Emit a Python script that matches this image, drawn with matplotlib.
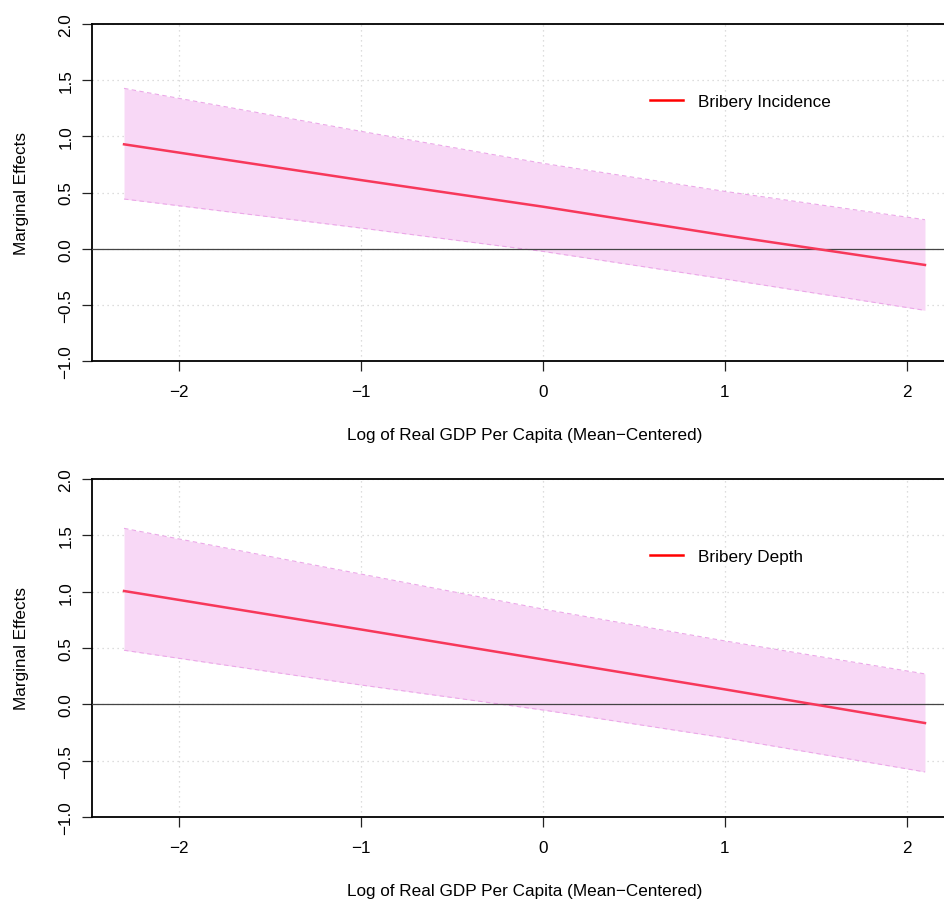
import matplotlib
matplotlib.use("Agg")
import matplotlib.pyplot as plt
import numpy as np

plt.rcParams["font.family"] = ["Liberation Sans", "DejaVu Sans"]

# evaluation points of log real GDP per capita (mean-centered)
gdp = [-2.3, -1.0, 0.0, 1.0, 2.1]

# panel 1: bribery incidence
inc_mean = [0.929, 0.611, 0.374, 0.119, -0.145]
inc_upper = [1.427, 1.045, 0.760, 0.510, 0.258]
inc_lower = [0.442, 0.184, -0.024, -0.270, -0.549]

# panel 2: bribery depth
dep_mean = [1.006, 0.665, 0.399, 0.133, -0.166]
dep_upper = [1.562, 1.157, 0.846, 0.563, 0.270]
dep_lower = [0.480, 0.172, -0.050, -0.297, -0.600]

x_ticks = [-2, -1, 0, 1, 2]
y_ticks = [-1.0, -0.5, 0.0, 0.5, 1.0, 1.5, 2.0]
y_tick_labels = ["\u22121.0", "\u22120.5", "0.0", "0.5", "1.0", "1.5", "2.0"]
x_tick_labels = ["\u22122", "\u22121", "0", "1", "2"]

panels = [
    ("Bribery Incidence", inc_mean, inc_upper, inc_lower),
    ("Bribery Depth", dep_mean, dep_upper, dep_lower),
]

W, H = 945, 903
fig = plt.figure(figsize=(W / 100, H / 100), dpi=100)

left_px, right_px = 92, 957
# (top, bottom) pixel rows of each plot region
rows = [(25, 362), (480, 818)]

fill_col = "#F8D8F6"
edge_col = "#EBA8E8"
line_col = "#F7385A"
fs = 12.3

for (name, mean, upper, lower), (top, bot) in zip(panels, rows):
    ax = fig.add_axes([left_px / W, 1 - bot / H, (right_px - left_px) / W, (bot - top) / H])

    span = gdp[-1] - gdp[0]
    ax.set_xlim(gdp[0] - 0.04 * span, gdp[-1] + 0.04 * span)
    ax.set_ylim(-1, 2)

    # grid
    for xt in x_ticks:
        ax.axvline(xt, color="#d3d3d3", lw=0.9, ls=(0, (1, 3)), zorder=0)
    for yt in y_ticks:
        ax.axhline(yt, color="#d3d3d3", lw=0.9, ls=(0, (1, 3)), zorder=0)

    ax.fill_between(gdp, lower, upper, color=fill_col, lw=0, zorder=1)
    ax.plot(gdp, upper, color=edge_col, lw=0.8, ls=(0, (4, 3)), zorder=2)
    ax.plot(gdp, lower, color=edge_col, lw=0.8, ls=(0, (4, 3)), zorder=2)
    ax.axhline(0, color="#444444", lw=0.9, zorder=3)
    ax.plot(gdp, mean, color=line_col, lw=1.8, zorder=4)

    # legend entry (pure red key as in the original)
    ax.plot([], [], color="red", lw=1.8, label=name)
    handles, labels = ax.get_legend_handles_labels()
    ax.legend(handles[-1:], labels[-1:], loc="center left",
              bbox_to_anchor=(0.645, 0.771), frameon=False, fontsize=fs,
              handlelength=1.95, handletextpad=0.87, borderpad=0, borderaxespad=0)

    ax.set_xticks(x_ticks)
    ax.set_xticklabels(x_tick_labels)
    ax.set_yticks(y_ticks)
    ax.set_yticklabels(y_tick_labels, rotation=90, va="center")
    ax.tick_params(axis="both", direction="out", length=7.5, width=0.9,
                   labelsize=fs, color="#222222")
    ax.tick_params(axis="y", pad=6)
    ax.tick_params(axis="x", pad=9)

    for sp in ax.spines.values():
        sp.set_linewidth(1.3)
        sp.set_color("black")

    ax.set_xlabel("Log of Real GDP Per Capita (Mean\u2212Centered)", fontsize=fs, labelpad=20)
    ax.set_ylabel("Marginal Effects", fontsize=fs, labelpad=21)

fig.savefig("out.png", dpi=100)
